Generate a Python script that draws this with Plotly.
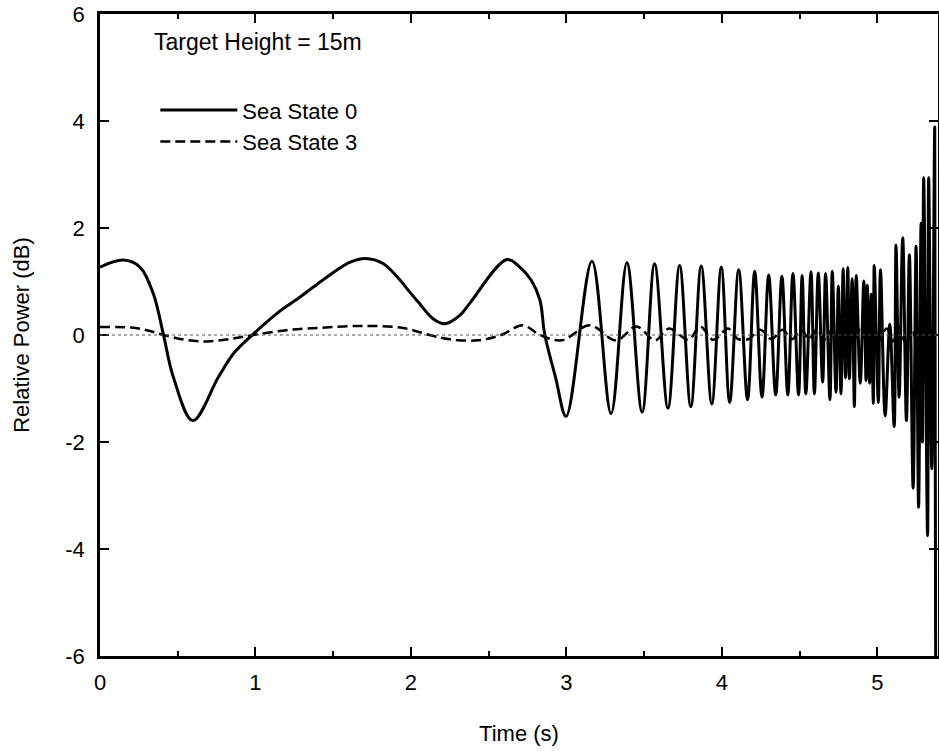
import plotly.graph_objects as go

# Sea State 0 (solid)
ss0_t = [0.0, 0.15, 0.257, 0.343, 0.407, 0.472, 0.597, 0.761, 0.858, 0.987, 1.137, 1.287,
         1.458, 1.609, 1.705, 1.823, 2.037, 2.144, 2.22, 2.316, 2.38, 2.617, 2.70, 2.775,
         2.83, 2.86, 2.93, 2.998, 3.164, 3.287, 3.389, 3.487, 3.567, 3.653, 3.728, 3.80,
         3.867, 3.935,
         3.996, 4.05, 4.108, 4.165, 4.211, 4.258, 4.301, 4.346, 4.386, 4.424, 4.457, 4.493,
         4.516, 4.54, 4.573, 4.595, 4.62, 4.648, 4.667, 4.695, 4.71, 4.734, 4.749, 4.766,
         4.78, 4.795, 4.81, 4.82, 4.838, 4.852, 4.864, 4.89, 4.913, 4.927, 4.935, 4.95,
         4.96, 4.974, 4.98, 5.006, 5.02, 5.05, 5.08, 5.108, 5.12, 5.14, 5.163, 5.187,
         5.206, 5.23, 5.249, 5.265, 5.281, 5.29, 5.298, 5.323, 5.33, 5.35, 5.369, 5.375]
ss0_v = [1.27, 1.40, 1.27, 0.77, 0.02, -0.79, -1.60, -0.79, -0.35, 0.02, 0.40, 0.71,
         1.08, 1.36, 1.43, 1.33, 0.65, 0.30, 0.21, 0.37, 0.60, 1.41, 1.27, 1.02,
         0.65, 0.02, -0.79, -1.52, 1.38, -1.47, 1.35, -1.44, 1.33, -1.37, 1.30, -1.34,
         1.29, -1.29,
         1.27, -1.26, 1.22, -1.21, 1.19, -1.16, 1.12, -1.12, 1.10, -1.12, 1.15, -1.12,
         1.11, -1.10, 1.18, -1.10, 1.16, -0.88, 1.15, -1.21, 1.19, -1.07, 0.91, -1.10,
         1.24, -0.80, 1.26, -0.82, 1.05, -1.34, 1.11, -0.90, 1.01, -0.85, 0.93, -0.90,
         0.76, -1.28, 1.30, -1.26, 1.22, -1.51, 0.20, -1.71, 1.68, -1.16, 1.82, -1.60,
         1.50, -2.86, 1.66, -3.22, 2.09, -2.00, 2.94, -3.75, 2.94, -2.50, 3.89, -6.5]

# Sea State 3 (dashed)
ss3_t = [0.0, 0.2, 0.3, 0.41, 0.55, 0.69, 0.85, 0.985, 1.2, 1.45, 1.716, 1.95, 2.12,
         2.25, 2.43, 2.58, 2.72, 2.83, 2.97, 3.15, 3.32, 3.45, 3.57, 3.66, 3.785, 3.86,
         3.945, 4.04, 4.10, 4.17, 4.247, 4.32, 4.39, 4.45, 4.51, 4.56, 4.61, 4.66, 4.71,
         4.76, 4.80, 4.85, 4.89, 4.93, 4.97, 5.01, 5.06, 5.10, 5.14, 5.18, 5.22, 5.26,
         5.30, 5.34, 5.38]
ss3_v = [0.15, 0.14, 0.09, 0.0, -0.09, -0.12, -0.07, 0.0, 0.09, 0.14, 0.17, 0.13, 0.0,
         -0.08, -0.10, 0.0, 0.18, 0.0, -0.10, 0.18, -0.10, 0.16, -0.10, 0.12, -0.09, 0.16,
         -0.09, 0.12, -0.07, -0.08, 0.10, -0.08, 0.10, -0.08, 0.10, -0.08, 0.10, -0.08, 0.10,
         -0.08, 0.10, -0.08, 0.10, -0.10, 0.12, -0.10, 0.12, -0.12, 0.15, -0.15, 0.15, -0.20,
         0.15, -0.20, 0.15]

baseline = 0
x_ticks = [0, 1, 2, 3, 4, 5]
x_labels = ["0", "1", "2", "3", "4", "5"]
y_ticks = [-6, -4, -2, 0, 2, 4, 6]
y_labels = ["-6", "-4", "-2", "0", "2", "4", "6"]

FONT = "Liberation Sans, Arial, sans-serif"
FS = 22

fig = go.Figure()
fig.add_hline(y=baseline, line=dict(color="#555555", width=1, dash="dot"))
fig.add_trace(go.Scatter(x=ss0_t, y=ss0_v, mode="lines", name="Sea State 0",
                         line=dict(color="black", width=3, shape="spline", smoothing=1.0,
                                   simplify=False)))
fig.add_trace(go.Scatter(x=ss3_t, y=ss3_v, mode="lines", name="Sea State 3",
                         line=dict(color="black", width=2.5, dash="10px,5px",
                                   shape="spline", smoothing=1.0, simplify=False)))

axis_common = dict(showline=True, linecolor="black", linewidth=2.5, mirror="ticks",
                   ticks="inside", tickcolor="black", tickwidth=2, ticklen=9,
                   showgrid=False, zeroline=False, automargin=False,
                   tickfont=dict(family=FONT, size=FS, color="black"))

fig.update_xaxes(range=[0, 5.39], tickvals=x_ticks, ticktext=x_labels, ticklabelstandoff=5,
                 minor=dict(ticks="inside", dtick=0.5, tick0=0, ticklen=5, tickwidth=2,
                            tickcolor="black"),
                 title=dict(text="Time (s)", font=dict(family=FONT, size=FS, color="black"),
                            standoff=32),
                 **axis_common)
fig.update_yaxes(range=[-6, 6], tickvals=y_ticks, ticktext=y_labels, ticklabelstandoff=8,
                 title=dict(text="Relative Power (dB)",
                            font=dict(family=FONT, size=FS, color="black"), standoff=30),
                 **axis_common)

fig.add_annotation(x=0.062, y=0.956, xref="paper", yref="paper", xanchor="left",
                   yanchor="middle", showarrow=False, text="Target Height = 15m",
                   font=dict(family=FONT, size=23, color="black"))

fig.update_layout(
    width=939, height=751,
    margin=dict(l=100, r=1, t=14, b=95),
    plot_bgcolor="white", paper_bgcolor="white",
    showlegend=True,
    legend=dict(x=0.066, y=0.883, xanchor="left", yanchor="top",
                bgcolor="rgba(0,0,0,0)", itemwidth=77, tracegroupgap=0,
                font=dict(family=FONT, size=22, color="black")),
)

fig.write_html("out.html", config={"displayModeBar": False},
               post_script="document.body.style.margin='0';document.body.style.overflow='hidden';")
